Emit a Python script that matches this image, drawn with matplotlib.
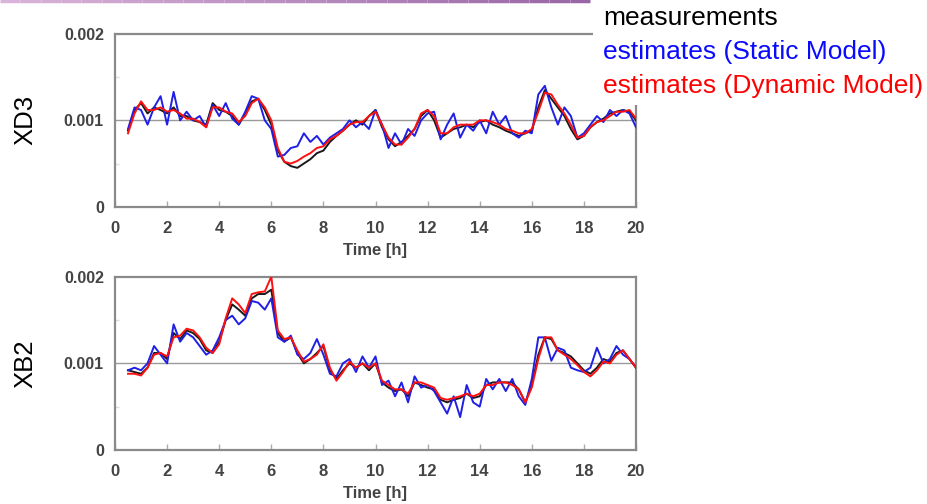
import numpy as np
import matplotlib
matplotlib.use("Agg")
import matplotlib.pyplot as plt
from matplotlib.patches import Rectangle
from matplotlib.collections import LineCollection

# ---------------- data (values in units of 1e-3) ----------------
time_h = [0.5 + 0.25 * i for i in range(79)]

xd3_meas = [0.88, 1.12, 1.20, 1.08, 1.15, 1.12, 1.08, 1.15, 1.05, 1.05,
            1.00, 0.98, 0.95, 1.20, 1.12, 1.10, 1.05, 0.95, 1.08, 1.22,
            1.25, 1.12, 0.95, 0.65, 0.52, 0.47, 0.45, 0.50, 0.55, 0.62,
            0.65, 0.75, 0.82, 0.88, 0.95, 1.00, 0.95, 1.05, 1.12, 0.92,
            0.78, 0.70, 0.75, 0.82, 0.90, 1.05, 1.12, 1.00, 0.80, 0.85,
            0.90, 0.92, 0.95, 0.92, 0.98, 1.00, 0.95, 0.92, 0.88, 0.85,
            0.82, 0.85, 0.88, 1.15, 1.35, 1.25, 1.15, 1.05, 0.90, 0.78,
            0.82, 0.92, 0.98, 1.02, 1.08, 1.10, 1.12, 1.10, 1.00]
xd3_static = [0.90, 1.15, 1.12, 0.95, 1.15, 1.28, 0.95, 1.33, 1.00, 1.10,
              1.00, 1.05, 0.92, 1.18, 1.05, 1.20, 1.02, 0.95, 1.10, 1.28,
              1.25, 1.00, 0.90, 0.58, 0.60, 0.68, 0.70, 0.85, 0.75, 0.82,
              0.72, 0.80, 0.85, 0.90, 1.00, 0.92, 0.98, 0.90, 1.12, 0.95,
              0.68, 0.85, 0.72, 0.90, 0.82, 1.00, 1.08, 1.10, 0.78, 0.95,
              1.08, 0.80, 0.95, 0.88, 1.00, 0.85, 1.10, 0.95, 1.05, 0.85,
              0.80, 0.88, 0.85, 1.30, 1.40, 1.15, 0.95, 1.15, 1.05, 0.80,
              0.85, 0.95, 1.05, 0.98, 1.12, 1.05, 1.12, 1.08, 0.92]
xd3_dynamic = [0.85, 1.08, 1.22, 1.12, 1.12, 1.15, 1.10, 1.12, 1.08, 1.02,
               1.02, 0.98, 0.92, 1.15, 1.15, 1.10, 1.08, 0.98, 1.05, 1.20,
               1.25, 1.15, 1.00, 0.68, 0.52, 0.50, 0.53, 0.58, 0.62, 0.68,
               0.70, 0.78, 0.82, 0.88, 0.95, 0.98, 0.98, 1.05, 1.10, 0.95,
               0.80, 0.72, 0.72, 0.80, 0.90, 1.08, 1.12, 1.05, 0.85, 0.85,
               0.92, 0.95, 0.95, 0.95, 1.00, 1.00, 0.98, 0.95, 0.90, 0.88,
               0.85, 0.85, 0.90, 1.10, 1.32, 1.30, 1.18, 1.08, 0.95, 0.80,
               0.82, 0.92, 0.98, 1.00, 1.05, 1.10, 1.10, 1.12, 1.02]

xb2_meas = [0.92, 0.90, 0.88, 0.95, 1.12, 1.12, 1.05, 1.35, 1.28, 1.38,
            1.35, 1.28, 1.15, 1.12, 1.25, 1.50, 1.68, 1.62, 1.55, 1.75,
            1.80, 1.80, 1.85, 1.35, 1.25, 1.30, 1.12, 1.00, 1.05, 1.12,
            1.20, 0.92, 0.82, 0.92, 1.00, 0.95, 1.00, 0.92, 1.00, 0.78,
            0.72, 0.68, 0.70, 0.62, 0.78, 0.75, 0.72, 0.70, 0.58, 0.55,
            0.58, 0.60, 0.65, 0.60, 0.62, 0.75, 0.78, 0.78, 0.78, 0.78,
            0.70, 0.55, 0.75, 1.10, 1.30, 1.28, 1.15, 1.12, 1.08, 1.00,
            0.92, 0.88, 0.95, 1.05, 1.02, 1.12, 1.15, 1.05, 0.95]
xb2_static = [0.92, 0.95, 0.92, 1.00, 1.20, 1.10, 1.00, 1.45, 1.25, 1.35,
              1.30, 1.20, 1.10, 1.15, 1.30, 1.50, 1.55, 1.45, 1.52, 1.72,
              1.70, 1.62, 1.75, 1.30, 1.25, 1.32, 1.10, 1.05, 1.12, 1.28,
              1.10, 0.88, 0.85, 1.00, 1.05, 0.90, 1.08, 0.95, 1.08, 0.75,
              0.80, 0.62, 0.78, 0.55, 0.85, 0.72, 0.75, 0.68, 0.55, 0.42,
              0.62, 0.38, 0.75, 0.55, 0.50, 0.82, 0.70, 0.82, 0.68, 0.82,
              0.62, 0.52, 0.82, 1.30, 1.30, 1.03, 1.18, 1.15, 0.95, 0.92,
              0.90, 0.95, 1.18, 1.00, 1.05, 1.20, 1.10, 1.05, 0.95]
xb2_dynamic = [0.88, 0.88, 0.86, 0.95, 1.10, 1.12, 1.08, 1.30, 1.32, 1.40,
               1.38, 1.30, 1.18, 1.12, 1.22, 1.52, 1.75, 1.68, 1.58, 1.80,
               1.82, 1.83, 2.00, 1.38, 1.28, 1.30, 1.15, 1.02, 1.05, 1.10,
               1.22, 0.95, 0.80, 0.90, 1.02, 0.95, 1.00, 0.95, 1.00, 0.80,
               0.75, 0.70, 0.70, 0.65, 0.78, 0.78, 0.75, 0.72, 0.60, 0.58,
               0.60, 0.62, 0.65, 0.62, 0.65, 0.75, 0.75, 0.78, 0.78, 0.75,
               0.70, 0.55, 0.72, 1.05, 1.30, 1.30, 1.15, 1.10, 1.05, 0.98,
               0.90, 0.85, 0.92, 1.02, 1.00, 1.10, 1.15, 1.05, 0.95]

panel_labels = ["XD3", "XB2"]
legend_labels = ["measurements", "estimates (Static Model)", "estimates (Dynamic Model)"]
series_colors = ["#1a1a1a", "#1f1fe6", "#ff1010"]
legend_colors = ["#000000", "#0a0aff", "#ff0000"]
xticks = [0, 2, 4, 6, 8, 10, 12, 14, 16, 18, 20]
yticks = [0, 0.001, 0.002]
ytick_labels = ["0", "0.001", "0.002"]

# ---------------- figure ----------------
plt.rcParams['font.family'] = ['Liberation Sans', 'DejaVu Sans']
fig = plt.figure(figsize=(9.28, 5.04), dpi=100)

W, H = 928.0, 504.0
axes_px = [(115, 34, 636, 206.7), (115, 276.7, 636, 450)]
panels = [(xd3_meas, xd3_static, xd3_dynamic), (xb2_meas, xb2_static, xb2_dynamic)]

t = np.array(time_h)
for (x0, y0, x1, y1), data, lab in zip(axes_px, panels, panel_labels):
    ax = fig.add_axes([x0 / W, 1 - y1 / H, (x1 - x0) / W, (y1 - y0) / H])
    for vals, col in zip(data, series_colors):
        ax.plot(t, np.array(vals) * 1e-3, color=col, lw=1.4, zorder=3)
    ax.set_xlim(0, 20)
    ax.set_ylim(0, 0.002)
    ax.axhline(0.001, color="#9a9a9a", lw=1.0, zorder=1)
    ax.set_xticks(xticks)
    ax.set_xticklabels([str(v) for v in xticks], fontweight='bold')
    ax.set_yticks(yticks)
    ax.set_yticklabels(ytick_labels, fontweight='bold')
    ax.set_yticks([0.0005, 0.0015], minor=True)
    ax.tick_params(axis='x', direction='in', length=4, width=1, color="#aaaaaa",
                   labelsize=12, labelcolor="#444444", pad=10)
    ax.tick_params(axis='y', which='major', direction='in', length=0,
                   labelsize=11.5, labelcolor="#444444", pad=8)
    ax.tick_params(axis='y', which='minor', direction='in', length=3, width=1,
                   color="#dddddd")
    for s in ax.spines.values():
        s.set_color("#8a8a8a")
        s.set_linewidth(1.6)
    ax.set_xlabel("Time [h]", fontsize=12, fontweight='bold', color="#444444",
                  labelpad=5)
    fig.text(25 / W, 1 - ((y0 + y1) / 2) / H, lab, rotation=90, fontsize=18.5,
             ha='center', va='center', color="black")

# white box behind legend text (covers top-right corner of upper panel)
fig.patches.append(Rectangle((593 / W, 1 - 105 / H), 1 - 593 / W, 105 / H,
                             transform=fig.transFigure, facecolor="white",
                             edgecolor="none", zorder=5))

legend_y = [18, 52, 86]
for txt, col, yy in zip(legend_labels, legend_colors, legend_y):
    fig.text(603 / W, 1 - yy / H, txt, fontsize=19, color=col,
             ha='left', va='center', zorder=6)

# thin purple rule at the very top
xs = np.linspace(0, 590 / W, 30)
segs = [[(xs[i], 1 - 1.0 / H), (xs[i + 1], 1 - 1.0 / H)] for i in range(len(xs) - 1)]
cols = [(0.85 - 0.25 * f, 0.70 - 0.30 * f, 0.85 - 0.20 * f) for f in np.linspace(0, 1, len(segs))]
lc = LineCollection(segs, colors=cols, linewidths=2.5, transform=fig.transFigure, zorder=7)
fig.add_artist(lc)

fig.savefig("out.png", dpi=100)
